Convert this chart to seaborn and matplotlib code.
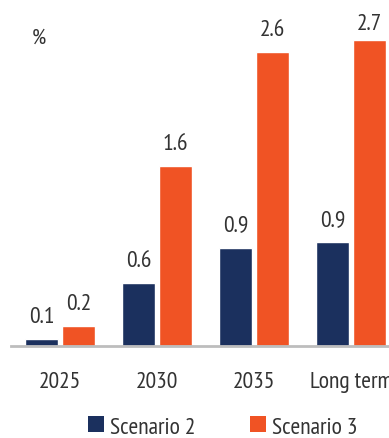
import matplotlib
matplotlib.use("Agg")
import matplotlib.pyplot as plt
import seaborn as sns
import pandas as pd
from matplotlib.patches import Patch

categories = ["2025", "2030", "2035", "Long term"]
series_names = ["Scenario 2", "Scenario 3"]
scenario2 = [0.06, 0.56, 0.87, 0.92]
scenario3 = [0.18, 1.59, 2.6, 2.7]

colors = {"Scenario 2": "#1b305e", "Scenario 3": "#f05324"}
text_color = "#333333"

df = pd.DataFrame({
    "category": categories * 2,
    "scenario": [series_names[0]] * 4 + [series_names[1]] * 4,
    "value": scenario2 + scenario3,
})

sns.set_theme(style="white")
fam = ["PT Sans Narrow", "DejaVu Sans"]
plt.rcParams["font.family"] = fam

fig = plt.figure(figsize=(3.89, 4.39), dpi=100)
ax = fig.add_axes([11 / 389, 1 - 347 / 439, 1 - 11 / 389, 347 / 439])

sns.barplot(data=df, x="category", y="value", hue="scenario", order=categories,
            hue_order=series_names, palette=colors, width=0.76, gap=0.1,
            ax=ax, legend=False, saturation=1)

px_per_unit = 113.2
ymax = 347 / px_per_unit
ax.set_ylim(0, ymax)
ax.set_xlim(-0.505, 3.39)

fs = 17

# value labels
off = 17 / px_per_unit
cap = 17 / px_per_unit
top_limit = (347 - 13) / px_per_unit
for cont in ax.containers:
    for bar in cont:
        v = bar.get_height()
        y = min(v + off, top_limit - cap)
        ax.text(bar.get_x() + bar.get_width() / 2, y, f"{v:.1f}",
                ha="center", va="baseline", fontsize=fs, color=text_color)

for s in ["top", "right", "left"]:
    ax.spines[s].set_visible(False)
ax.spines["bottom"].set_color("#bdbdbd")
ax.spines["bottom"].set_linewidth(2)
ax.set_yticks([])
ax.set_xlabel("")
ax.set_ylabel("")
ax.tick_params(axis="x", length=0, pad=18, labelsize=fs, labelcolor=text_color)

fig.text(39 / 389, 1 - 38 / 439, "%", ha="center", va="center",
         fontsize=16, color=text_color)

handles = [Patch(facecolor=colors[n], edgecolor="none", label=n) for n in series_names]
fig.legend(handles=handles, loc="center", bbox_to_anchor=(223 / 389, 1 - 428 / 439),
           ncol=2, frameon=False, fontsize=fs, handlelength=0.66, handleheight=0.66,
           handletextpad=0.28, columnspacing=2.3, labelcolor=text_color)

fig.savefig("out.png", dpi=100)
